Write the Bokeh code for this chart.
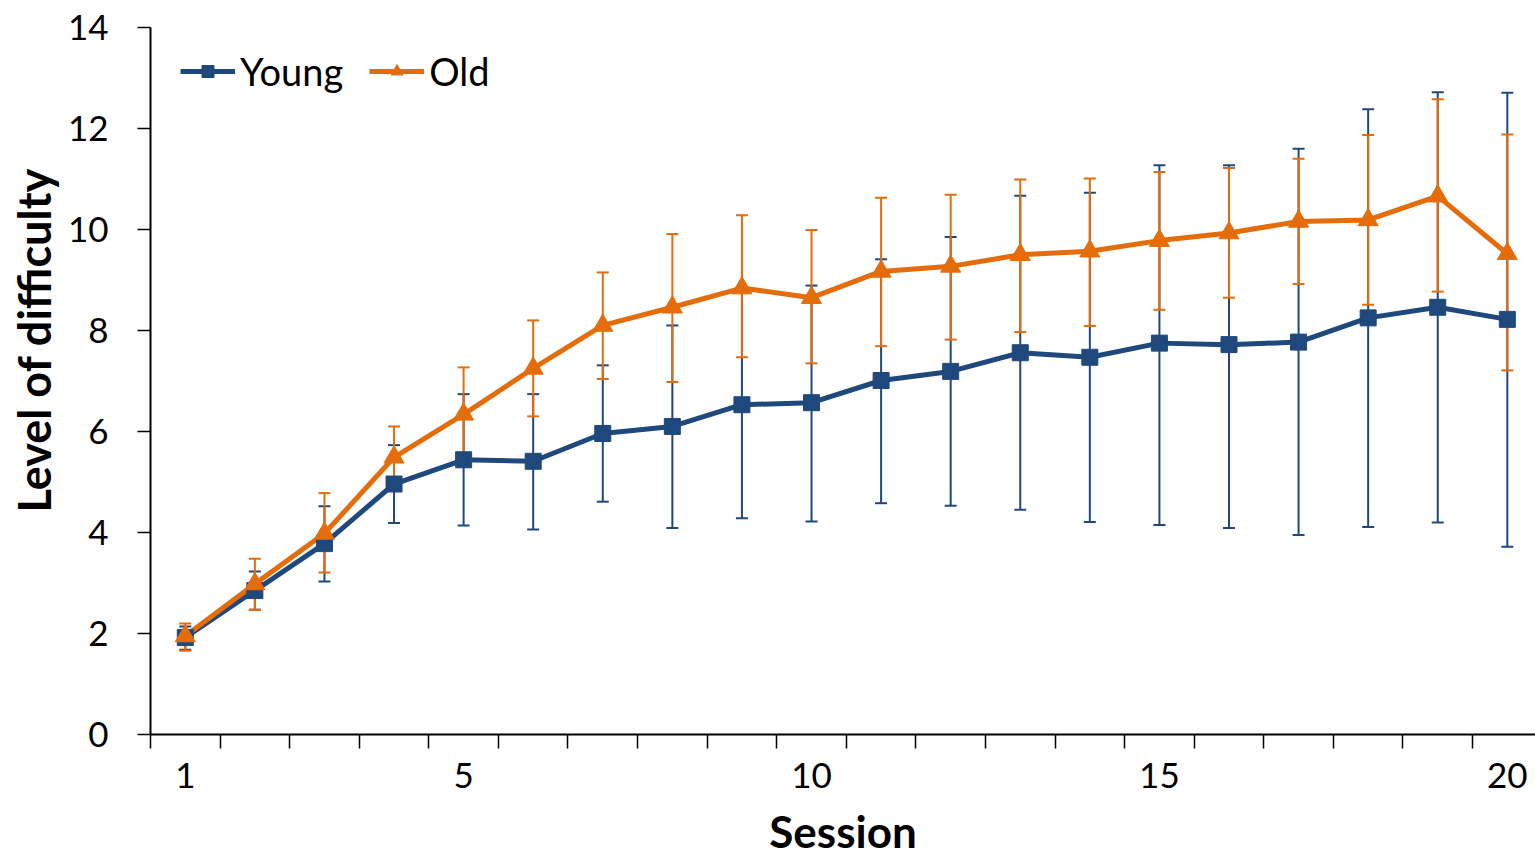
from bokeh.plotting import figure
from bokeh.models import (ColumnDataSource, Range1d, FixedTicker, Whisker, TeeHead, Title)
from bokeh.embed import file_html
from bokeh.resources import INLINE

# ---- data ----
sessions = list(range(1, 21))
young_mean = [1.92, 2.85, 3.78, 4.96, 5.44, 5.41, 5.96, 6.10, 6.53, 6.57,
              7.01, 7.19, 7.56, 7.47, 7.75, 7.72, 7.77, 8.25, 8.46, 8.22]
young_upper = [2.14, 3.23, 4.52, 5.73, 6.74, 6.74, 7.31, 8.10, 8.78, 8.89,
               9.41, 9.85, 10.67, 10.73, 11.27, 11.27, 11.60, 12.38, 12.72, 12.71]
young_lower = [1.68, 2.47, 3.03, 4.19, 4.14, 4.06, 4.61, 4.09, 4.28, 4.22,
               4.58, 4.53, 4.45, 4.21, 4.15, 4.09, 3.95, 4.11, 4.20, 3.72]
old_mean = [1.95, 2.98, 3.98, 5.49, 6.34, 7.25, 8.10, 8.46, 8.84, 8.65,
            9.17, 9.27, 9.50, 9.57, 9.78, 9.93, 10.16, 10.19, 10.66, 9.52]
old_upper = [2.20, 3.48, 4.78, 6.10, 7.27, 8.20, 9.15, 9.91, 10.28, 9.99,
             10.63, 10.69, 10.99, 11.01, 11.14, 11.22, 11.40, 11.87, 12.58, 11.88]
old_lower = [1.66, 2.47, 3.21, 4.88, 5.43, 6.30, 7.04, 6.98, 7.47, 7.35,
             7.69, 7.82, 7.97, 8.09, 8.41, 8.65, 8.92, 8.51, 8.77, 7.21]
x_tick_labels = [1, 5, 10, 15, 20]
y_ticks = [0, 2, 4, 6, 8, 10, 12, 14]

BLUE = "#1F497D"
ORANGE = "#E46C0A"
FONT = "Lato"

ysrc = ColumnDataSource(dict(x=sessions, y=young_mean, upper=young_upper, lower=young_lower))
osrc = ColumnDataSource(dict(x=sessions, y=old_mean, upper=old_upper, lower=old_lower))

p = figure(width=1535, height=859, output_backend="svg", toolbar_location=None,
           x_range=Range1d(0.5, 20.405), y_range=Range1d(0, 14),
           min_border_left=150, min_border_right=0, min_border_top=27, min_border_bottom=125)
p.outline_line_color = None
p.grid.visible = False
p.background_fill_color = "white"
p.border_fill_color = "white"

# error bars
for src, col in ((ysrc, BLUE), (osrc, ORANGE)):
    w = Whisker(source=src, base="x", upper="upper", lower="lower",
                line_color=col, line_width=2,
                upper_head=TeeHead(size=12, line_color=col, line_width=2),
                lower_head=TeeHead(size=12, line_color=col, line_width=2))
    p.add_layout(w)

p.line("x", "y", source=ysrc, line_color=BLUE, line_width=5, legend_label="Young")
p.line("x", "y", source=osrc, line_color=ORANGE, line_width=5, legend_label="Old")
p.scatter("x", "y", source=ysrc, marker="square", size=16, fill_color=BLUE,
          line_color=BLUE, legend_label="Young")
p.scatter("x", "y", source=osrc, marker="triangle", size=20, fill_color=ORANGE,
          line_color=ORANGE, legend_label="Old")

# x axis
xa = p.xaxis[0]
xa.ticker = FixedTicker(ticks=x_tick_labels, minor_ticks=[i + 0.5 for i in range(0, 21)])
xa.major_tick_out = 0
xa.major_tick_in = 0
xa.major_tick_line_color = None
xa.minor_tick_out = 14
xa.minor_tick_in = 0
xa.minor_tick_line_color = "black"
xa.minor_tick_line_width = 1.5
xa.axis_line_color = "black"
xa.axis_line_width = 2
xa.major_label_standoff = 14
xa.major_label_text_font = FONT
xa.major_label_text_font_size = "35px"
xa.major_label_text_color = "black"
xa.axis_label = "Session"
xa.axis_label_text_font = FONT
xa.axis_label_text_font_style = "bold"
xa.axis_label_text_font_size = "44px"
xa.axis_label_text_color = "black"
xa.axis_label_standoff = 14

# y axis
ya = p.yaxis[0]
ya.ticker = FixedTicker(ticks=y_ticks)
ya.major_tick_out = 13
ya.major_tick_in = 0
ya.minor_tick_line_color = None
ya.major_tick_line_color = "black"
ya.major_tick_line_width = 1.5
ya.axis_line_color = "black"
ya.axis_line_width = 2
ya.major_label_standoff = 29
ya.major_label_text_font = FONT
ya.major_label_text_font_size = "35px"
ya.major_label_text_color = "black"

ytitle = Title(text="Level of difficulty", align="left", offset=222,
               vertical_align="middle", standoff=6,
               text_font=FONT, text_font_style="bold", text_font_size="45px",
               text_color="black")
p.add_layout(ytitle, "left")

# legend
lg = p.legend[0]
lg.location = (30, 640)
lg.orientation = "horizontal"
lg.margin = 0
lg.padding = 0
lg.spacing = 26
lg.glyph_width = 55
lg.glyph_height = 30
lg.label_standoff = 5
lg.label_text_font = FONT
lg.label_text_font_size = "38px"
lg.label_text_color = "black"
lg.background_fill_alpha = 0
lg.border_line_color = None

open("out.html", "w").write(file_html(p, INLINE))
